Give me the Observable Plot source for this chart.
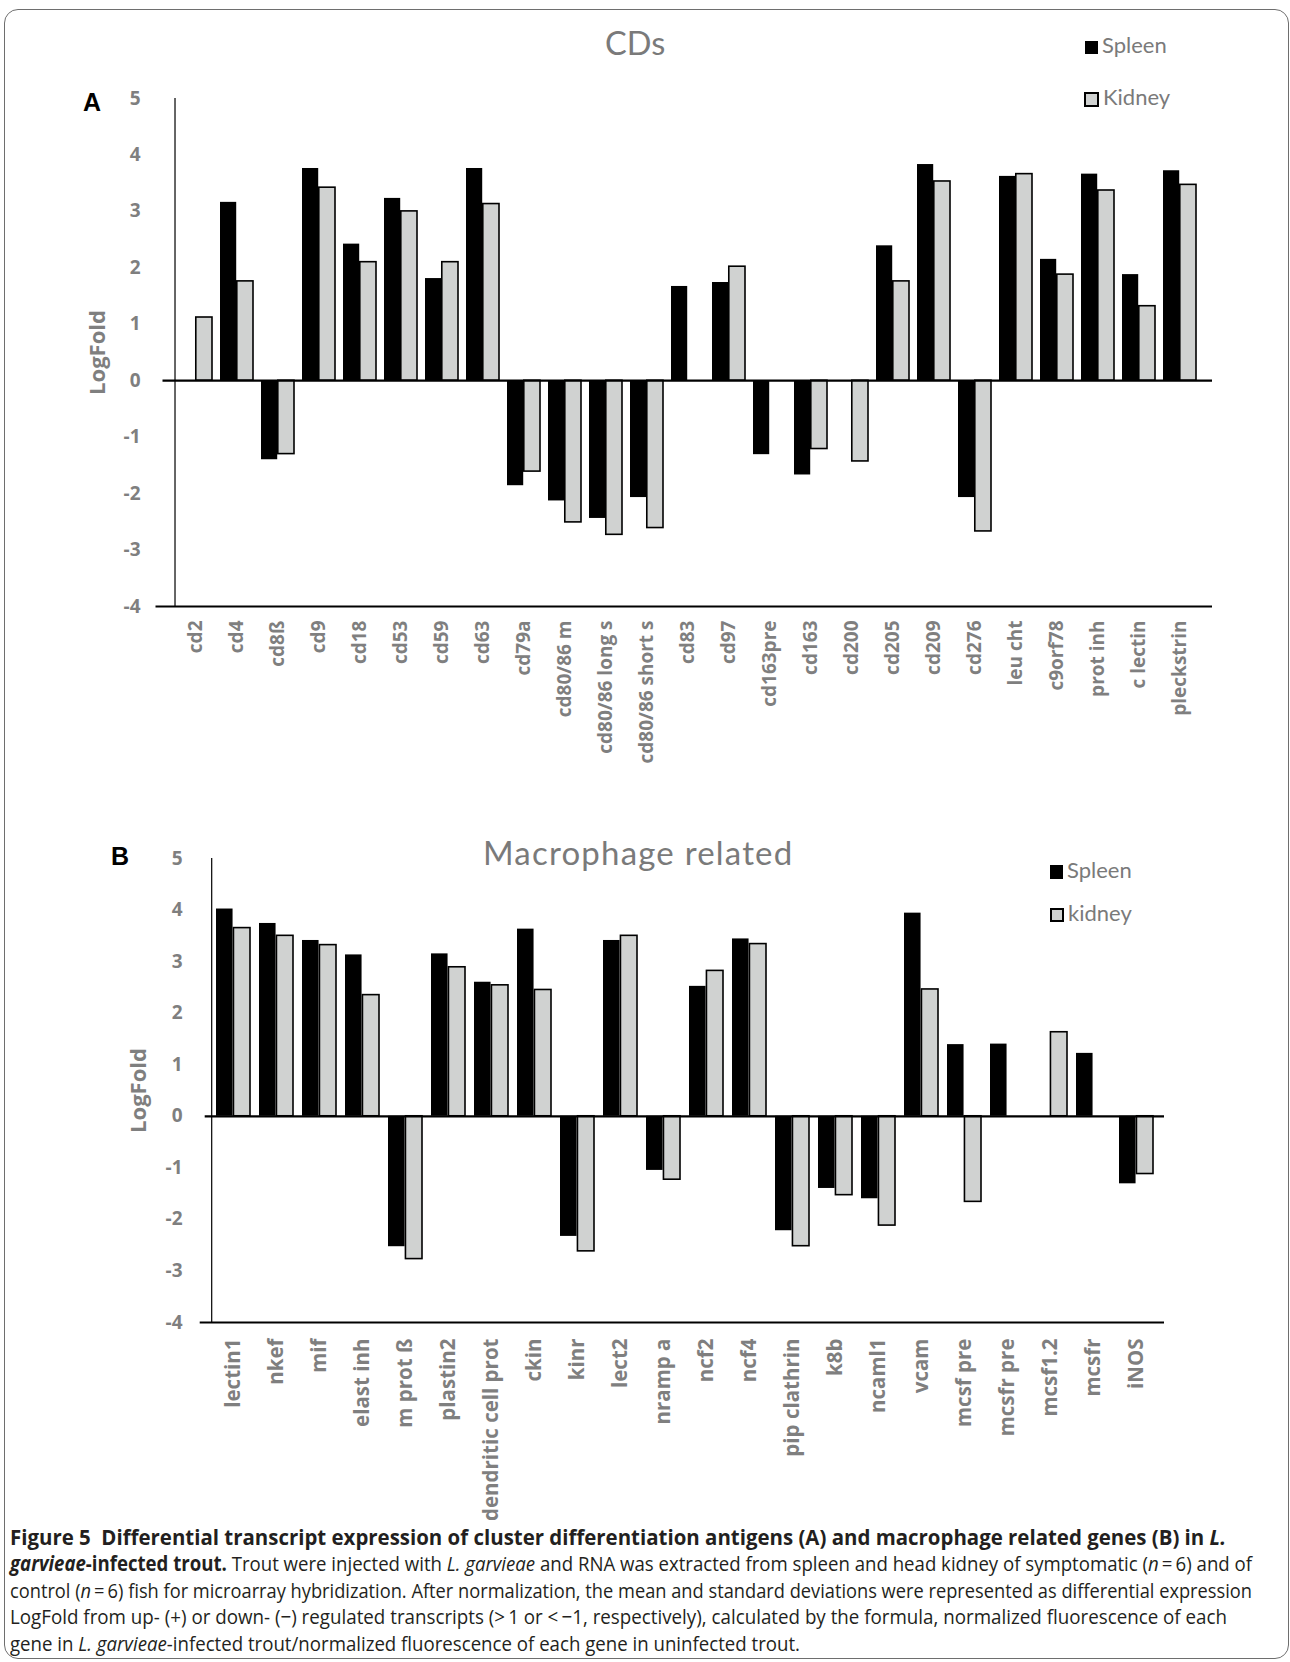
<!DOCTYPE html>
<html>
<head>
<meta charset="utf-8">
<script src="https://cdn.jsdelivr.net/npm/d3@7"></script>
<script src="https://cdn.jsdelivr.net/npm/@observablehq/plot@0.6"></script>
<style>
html, body { margin: 0; padding: 0; background: #fff; }
#page { position: relative; width: 1290px; height: 1662px; overflow: hidden; background: #fff; }
#frame { position: absolute; left: 4px; top: 9px; width: 1285px; height: 1650px; box-sizing: border-box;
  border: 1.5px solid #6e6e6e; border-radius: 14px; }
.abs { position: absolute; white-space: nowrap; line-height: 1; }
.lato { font-family: Lato, "Open Sans", sans-serif; color: #7a7a7a; }
.panel { font-family: "Liberation Sans", Arial, sans-serif; font-weight: bold; color: #000; }
.sw { position: absolute; box-sizing: border-box; }
.chart { position: absolute; left: 0; width: 1290px; }
#caption { position: absolute; left: 10px; top: 1523.5px; font-family: "Open Sans", sans-serif; font-size: 20.5px;
  line-height: 26.67px; color: #231f20; }
#caption div { white-space: nowrap; height: 26.67px; }
#caption span.ln { display: inline-block; transform-origin: 0 0; }
</style>
</head>
<body>
<div id="page">
  <div id="frame"></div>
  <div id="chartA" class="chart" style="top:0px"></div>
  <div id="chartB" class="chart" style="top:780px"></div>
  <div id="overlay"></div>
  <div id="caption">
    <div><span class="ln" data-w="1216"><b>Figure 5&nbsp; Differential transcript expression of cluster differentiation antigens (A) and macrophage related genes (B) in <i>L.</i></b></span></div>
    <div><span class="ln" data-w="1242"><b><i>garvieae</i>-infected trout.</b> Trout were injected with <i>L. garvieae</i> and RNA was extracted from spleen and head kidney of symptomatic (<i>n</i>&#8201;=&#8201;6) and of</span></div>
    <div><span class="ln" data-w="1242">control (<i>n</i>&#8201;=&#8201;6) fish for microarray hybridization. After normalization, the mean and standard deviations were represented as differential expression</span></div>
    <div><span class="ln" data-w="1217">LogFold from up- (+) or down- (&#8722;) regulated transcripts (&gt;&#8201;1 or &lt;&#8201;&#8722;1, respectively), calculated by the formula, normalized fluorescence of each</span></div>
    <div><span class="ln" data-w="790">gene in <i>L. garvieae</i>-infected trout/normalized fluorescence of each gene in uninfected trout.</span></div>
  </div>
</div>
<script>
// ---------- Data: panel A (CDs) ----------
const catsA = ["cd2","cd4","cd8ß","cd9","cd18","cd53","cd59","cd63","cd79a","cd80/86 m","cd80/86 long s",
  "cd80/86 short s","cd83","cd97","cd163pre","cd163","cd200","cd205","cd209","cd276","leu cht","c9orf78",
  "prot inh","c lectin","pleckstrin"];
const spleenA = [null,3.16,-1.40,3.76,2.42,3.23,1.81,3.76,-1.86,-2.13,-2.44,-2.07,1.67,1.74,-1.31,-1.67,null,
  2.39,3.83,-2.07,3.62,2.15,3.66,1.88,3.72];
const kidneyA = [1.12,1.76,-1.30,3.42,2.10,3.00,2.10,3.13,-1.61,-2.51,-2.73,-2.61,null,2.02,null,-1.21,-1.43,
  1.76,3.53,-2.67,3.66,1.88,3.37,1.32,3.47];

// ---------- Data: panel B (Macrophage related) ----------
const catsB = ["lectin1","nkef","mif","elast inh","m prot ß","plastin2","dendritic cell prot","ckin","kinr","lect2",
  "nramp a","ncf2","ncf4","pip clathrin","k8b","ncaml1","vcam","mcsf pre","mcsfr pre","mcsf1.2","mcsfr","iNOS"];
const spleenB = [4.02,3.74,3.41,3.13,-2.53,3.15,2.60,3.63,-2.33,3.41,-1.05,2.52,3.44,-2.22,-1.40,-1.60,3.94,1.39,
  1.40,null,1.22,-1.31];
const kidneyB = [3.65,3.50,3.32,2.35,-2.77,2.89,2.54,2.45,-2.62,3.50,-1.23,2.82,3.34,-2.52,-1.53,-2.12,2.46,-1.66,
  null,1.63,null,-1.12];

const yTicks = [-4,-3,-2,-1,0,1,2,3,4,5];
const seriesA = ["Spleen","Kidney"];
const seriesB = ["Spleen","kidney"];
const titleA = "CDs";
const titleB = "Macrophage related";
const yLabel = "LogFold";

const W = 1290;
const GRAY = "#7f7f7f";
const KID = "#d0d2d1";

function panel(o) {
  const step = (W - o.ml - o.mr) / o.cats.length;
  const half = step * 0.8 / 2;
  const sRows = o.cats.map((c, i) => ({cat: c, v: o.spleen[i]})).filter(d => d.v != null);
  const kRows = o.cats.map((c, i) => ({cat: c, v: o.kidney[i]})).filter(d => d.v != null);
  return Plot.plot({
    width: W, height: o.h,
    marginLeft: o.ml, marginRight: o.mr, marginTop: o.mt, marginBottom: o.mb,
    style: {background: "transparent", fontFamily: "'Open Sans', sans-serif", overflow: "visible", maxWidth: "none"},
    x: {type: "band", domain: o.cats, paddingInner: 0.2, paddingOuter: 0.1},
    y: {domain: [-4, 5]},
    marks: [
      Plot.barY(sRows, {x: "cat", y: "v", fill: "#000", insetRight: half}),
      Plot.barY(kRows, {x: "cat", y: "v", fill: KID, stroke: "#000", strokeWidth: 1.6, insetLeft: half}),
      // vertical value axis line at the left edge of the first band step
      Plot.ruleX([o.cats[0]], {x: d => d, dx: -step / 2, stroke: "#000", strokeWidth: 1.2}),
      Plot.ruleY([0], {stroke: "#000", strokeWidth: 2.2}),
      Plot.ruleY([-4], {stroke: "#000", strokeWidth: 2.2, insetLeft: o.botInset}),
      Plot.axisY({ticks: yTicks, tickSize: 0, tickPadding: o.yPad, tickFormat: d => String(d),
        fontSize: o.yFs, fontWeight: "bold", fill: GRAY, label: null}),
      Plot.axisX({tickRotate: -90, tickSize: 0, tickPadding: o.xPad, fontSize: o.xFs, fontWeight: "bold",
        fill: GRAY, label: null}),
      Plot.text([yLabel], {frameAnchor: "left", textAnchor: "middle", rotate: -90, dx: o.labelDx, fontSize: 22,
        fontWeight: "bold", fill: GRAY})
    ]
  });
}

document.getElementById("chartA").append(panel({
  cats: catsA, spleen: spleenA, kidney: kidneyA,
  h: 780, ml: 162.5, mr: 78, mt: 98, mb: 174,
  yFs: 19, xFs: 19, yPad: 22.5, xPad: 14, labelDx: -65.5, botInset: -7
}));
document.getElementById("chartB").append(panel({
  cats: catsB, spleen: spleenB, kidney: kidneyB,
  h: 742, ml: 204.7, mr: 126, mt: 78, mb: 200,
  yFs: 19, xFs: 20.5, yPad: 22.7, xPad: 16, labelDx: -66.5, botInset: -5
}));

// ---------- Titles, panel letters and legends (HTML, placed by baseline) ----------
const overlay = document.getElementById("overlay");
function txt(s, cls, x, base, fs, asc, extra) {
  const el = document.createElement("div");
  el.className = "abs " + cls;
  el.textContent = s;
  el.style.left = x + "px";
  el.style.top = (base - asc * fs) + "px";
  el.style.fontSize = fs + "px";
  if (extra) Object.assign(el.style, extra);
  overlay.append(el);
}
function swatch(x, y, w, h, bg, border) {
  const el = document.createElement("div");
  el.className = "sw";
  Object.assign(el.style, {left: x + "px", top: y + "px", width: w + "px", height: h + "px", background: bg,
    border: border || "none"});
  overlay.append(el);
}
const LATO = 0.887, LIB = 0.8465;
txt("A", "panel", 83, 110.7, 25, LIB);
txt("B", "panel", 111, 865, 25, LIB);
txt(titleA, "lato", 605, 56, 32.5, LATO);
txt(titleB, "lato", 483, 865, 33, LATO, {letterSpacing: "1.2px"});
// legend A
swatch(1085, 41, 12.5, 13, "#000");
txt(seriesA[0], "lato", 1102, 54, 22, LATO);
swatch(1084, 92, 15, 15, KID, "2px solid #000");
txt(seriesA[1], "lato", 1103, 106, 22, LATO);
// legend B
swatch(1050, 865, 13, 14, "#000");
txt(seriesB[0], "lato", 1067, 879, 22, LATO);
swatch(1049.5, 908, 14, 14, KID, "2px solid #000");
txt(seriesB[1], "lato", 1068, 922, 22, LATO);

// ---------- Caption: fit each line to the width it has in the figure ----------
function fitCaption() {
  document.querySelectorAll("#caption span.ln").forEach(sp => {
    sp.style.transform = "none";
    const w = sp.getBoundingClientRect().width;
    const target = +sp.dataset.w;
    if (w > 0) sp.style.transform = `scaleX(${target / w})`;
  });
}
fitCaption();
if (document.fonts && document.fonts.ready) document.fonts.ready.then(fitCaption);
</script>
</body>
</html>
